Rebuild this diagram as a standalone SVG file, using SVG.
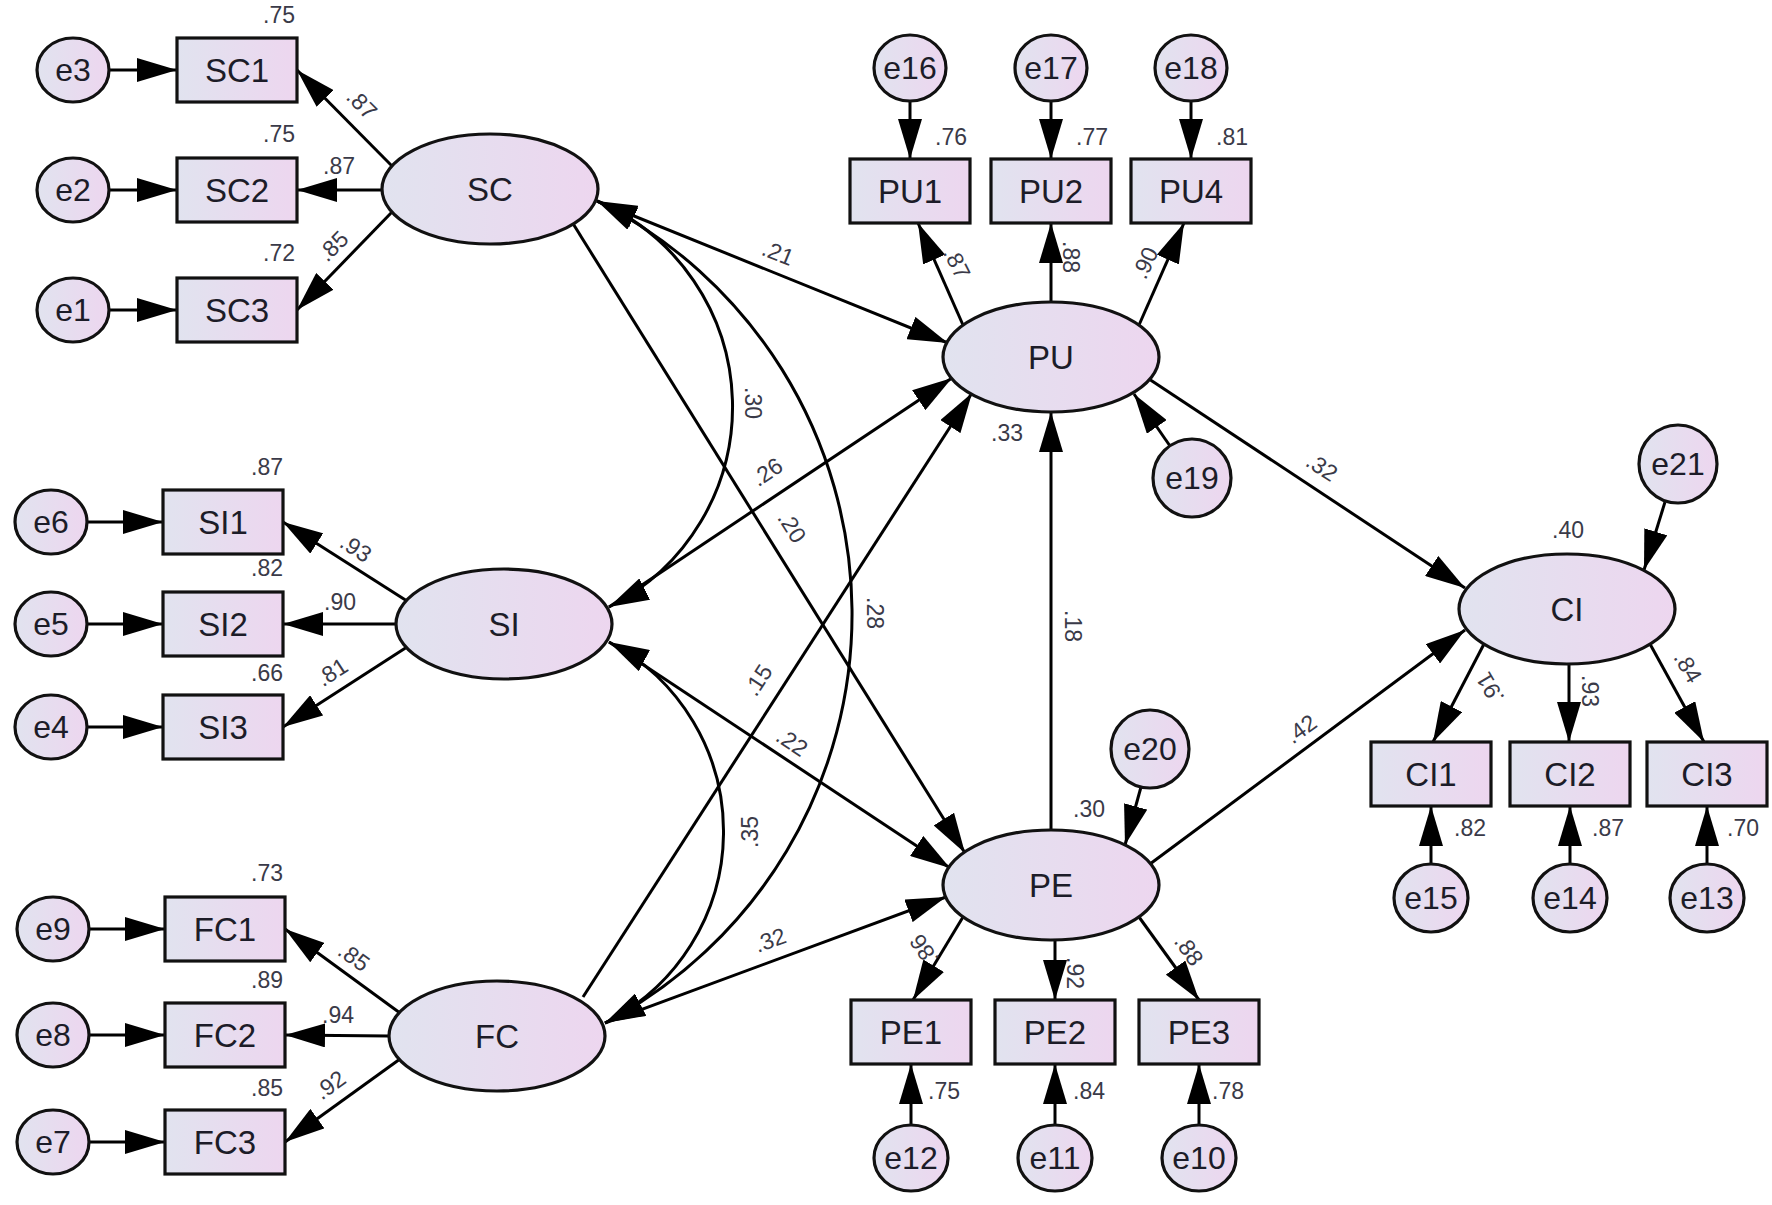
<svg xmlns="http://www.w3.org/2000/svg" width="1772" height="1205" viewBox="0 0 1772 1205">
<defs>
<linearGradient id="g" x1="0" y1="0" x2="1" y2="0">
<stop offset="0" stop-color="#e1e3ef"/>
<stop offset="1" stop-color="#edd6ef"/>
</linearGradient>
<marker id="ah" viewBox="0 0 40 24" refX="40" refY="12" markerWidth="40" markerHeight="24" markerUnits="userSpaceOnUse" orient="auto"><path d="M0,0 L40,12 L0,24 z" fill="#000"/></marker>
<marker id="ahs" viewBox="0 0 40 24" refX="40" refY="12" markerWidth="40" markerHeight="24" markerUnits="userSpaceOnUse" orient="auto-start-reverse"><path d="M0,0 L40,12 L0,24 z" fill="#000"/></marker>
<style>
.n{fill:url(#g);stroke:#111;stroke-width:3.2}
.t{font-family:"Liberation Sans",Arial,sans-serif;font-size:33px;fill:#1c1c28;text-anchor:middle;dominant-baseline:central}
.te{font-family:"Liberation Sans",Arial,sans-serif;font-size:32px;fill:#1c1c28;text-anchor:middle;dominant-baseline:central}
.v{font-family:"Liberation Sans",Arial,sans-serif;font-size:23px;fill:#3a3a48;text-anchor:middle;dominant-baseline:central}
.c{fill:none;stroke:#000;stroke-width:3;marker-end:url(#ah)}
.d{fill:none;stroke:#000;stroke-width:3;marker-start:url(#ahs);marker-end:url(#ahs)}
</style>
</defs>
<rect width="1772" height="1205" fill="#fff"/>

<g id="connectors">
<line class="c" x1="109" y1="70" x2="177" y2="70"/>
<line class="c" x1="109" y1="190" x2="177" y2="190"/>
<line class="c" x1="109" y1="310" x2="177" y2="310"/>
<line class="c" x1="87" y1="522" x2="163" y2="522"/>
<line class="c" x1="87" y1="624" x2="163" y2="624"/>
<line class="c" x1="87" y1="727" x2="163" y2="727"/>
<line class="c" x1="89" y1="929" x2="165" y2="929"/>
<line class="c" x1="89" y1="1035" x2="165" y2="1035"/>
<line class="c" x1="89" y1="1142" x2="165" y2="1142"/>
<line class="c" x1="392" y1="166" x2="297" y2="70"/>
<line class="c" x1="382" y1="190" x2="297" y2="190"/>
<line class="c" x1="392" y1="212" x2="297" y2="310"/>
<line class="c" x1="407" y1="601" x2="283" y2="522"/>
<line class="c" x1="396" y1="624" x2="283" y2="624"/>
<line class="c" x1="407" y1="647" x2="283" y2="727"/>
<line class="c" x1="400" y1="1013" x2="285" y2="929"/>
<line class="c" x1="389" y1="1036" x2="285" y2="1035"/>
<line class="c" x1="400" y1="1059" x2="285" y2="1142"/>
<line class="c" x1="910" y1="101" x2="910" y2="159"/>
<line class="c" x1="1051" y1="101" x2="1051" y2="159"/>
<line class="c" x1="1191" y1="101" x2="1191" y2="159"/>
<line class="c" x1="963" y1="325" x2="918" y2="223"/>
<line class="c" x1="1051" y1="302" x2="1051" y2="223"/>
<line class="c" x1="1139" y1="325" x2="1184" y2="223"/>
<line class="c" x1="1170" y1="446" x2="1134" y2="394"/>
<line class="c" x1="1141" y1="787" x2="1125" y2="845"/>
<line class="c" x1="963" y1="917" x2="913" y2="1000"/>
<line class="c" x1="1055" y1="940" x2="1055" y2="1000"/>
<line class="c" x1="1139" y1="917" x2="1199" y2="1000"/>
<line class="c" x1="911" y1="1125" x2="911" y2="1064"/>
<line class="c" x1="1055" y1="1125" x2="1055" y2="1064"/>
<line class="c" x1="1199" y1="1125" x2="1199" y2="1064"/>
<line class="c" x1="1665" y1="502" x2="1644" y2="570"/>
<line class="c" x1="1484" y1="644" x2="1433" y2="742"/>
<line class="c" x1="1569" y1="664" x2="1569" y2="742"/>
<line class="c" x1="1650" y1="644" x2="1704" y2="742"/>
<line class="c" x1="1431" y1="864" x2="1431" y2="806"/>
<line class="c" x1="1570" y1="864" x2="1570" y2="806"/>
<line class="c" x1="1707" y1="864" x2="1707" y2="806"/>
<path class="d" d="M597,201 A224,224 0 0,1 609,607"/>
<path class="d" d="M597,201 A462,462 0 0,1 605,1023"/>
<path class="d" d="M609,642 A214,214 0 0,1 605,1023"/>
<line class="c" x1="597" y1="201" x2="948" y2="343"/>
<line class="c" x1="572" y1="222" x2="965" y2="853"/>
<line class="c" x1="609" y1="607" x2="952" y2="378"/>
<line class="c" x1="609" y1="642" x2="950" y2="868"/>
<line class="c" x1="583" y1="997" x2="972" y2="393"/>
<line class="c" x1="605" y1="1023" x2="946" y2="897"/>
<line class="c" x1="1051" y1="830" x2="1051" y2="412"/>
<line class="c" x1="1149" y1="379" x2="1465" y2="588"/>
<line class="c" x1="1150" y1="864" x2="1465" y2="630"/>
</g>

<g id="edge-labels">
<text class="v" transform="translate(362,104) rotate(45)">.87</text>
<text class="v" x="339" y="166">.87</text>
<text class="v" transform="translate(333,246) rotate(-45)">.85</text>
<text class="v" transform="translate(356,548) rotate(33)">.93</text>
<text class="v" x="340" y="602">.90</text>
<text class="v" transform="translate(332,672) rotate(-33)">.81</text>
<text class="v" transform="translate(354,957) rotate(36)">.85</text>
<text class="v" x="338" y="1015">.94</text>
<text class="v" transform="translate(330,1085) rotate(-36)">.92</text>
<text class="v" transform="translate(957,263) rotate(63)">.87</text>
<text class="v" transform="translate(1071,257) rotate(90)">.88</text>
<text class="v" transform="translate(1145,263) rotate(-65)">.90</text>
<text class="v" transform="translate(778,253) rotate(22)">.21</text>
<text class="v" transform="translate(753,403) rotate(90)">.30</text>
<text class="v" transform="translate(767,472) rotate(-34)">.26</text>
<text class="v" transform="translate(792,527) rotate(58)">.20</text>
<text class="v" transform="translate(875,613) rotate(90)">.28</text>
<text class="v" transform="translate(758,680) rotate(-57)">.15</text>
<text class="v" transform="translate(792,742) rotate(34)">.22</text>
<text class="v" transform="translate(750,832) rotate(-90)">.35</text>
<text class="v" transform="translate(770,940) rotate(-20)">.32</text>
<text class="v" transform="translate(1073,626) rotate(90)">.18</text>
<text class="v" transform="translate(1322,467) rotate(33)">.32</text>
<text class="v" transform="translate(1301,729) rotate(-36)">.42</text>
<text class="v" transform="translate(924,950) rotate(-125)">.86</text>
<text class="v" transform="translate(1075,973) rotate(90)">.92</text>
<text class="v" transform="translate(1189,950) rotate(55)">.88</text>
<text class="v" transform="translate(1490,688) rotate(-120)">.91</text>
<text class="v" transform="translate(1590,691) rotate(90)">.93</text>
<text class="v" transform="translate(1688,667) rotate(60)">.84</text>
</g>

<g id="e3"><ellipse class="n" cx="73" cy="70" rx="36" ry="32"/><text class="te" x="73" y="70">e3</text></g>
<g id="e2"><ellipse class="n" cx="73" cy="190" rx="36" ry="32"/><text class="te" x="73" y="190">e2</text></g>
<g id="e1"><ellipse class="n" cx="73" cy="310" rx="36" ry="32"/><text class="te" x="73" y="310">e1</text></g>
<g id="SC1"><rect class="n" x="177" y="38" width="120" height="64"/><text class="t" x="237" y="70">SC1</text><text class="v" x="279" y="15">.75</text></g>
<g id="SC2"><rect class="n" x="177" y="158" width="120" height="64"/><text class="t" x="237" y="190">SC2</text><text class="v" x="279" y="134">.75</text></g>
<g id="SC3"><rect class="n" x="177" y="278" width="120" height="64"/><text class="t" x="237" y="310">SC3</text><text class="v" x="279" y="253">.72</text></g>
<g id="SC"><ellipse class="n" cx="490" cy="189" rx="108" ry="55"/><text class="t" x="490" y="189">SC</text></g>

<g id="e6"><ellipse class="n" cx="51" cy="522" rx="36" ry="32"/><text class="te" x="51" y="522">e6</text></g>
<g id="e5"><ellipse class="n" cx="51" cy="624" rx="36" ry="32"/><text class="te" x="51" y="624">e5</text></g>
<g id="e4"><ellipse class="n" cx="51" cy="727" rx="36" ry="32"/><text class="te" x="51" y="727">e4</text></g>
<g id="SI1"><rect class="n" x="163" y="490" width="120" height="64"/><text class="t" x="223" y="522">SI1</text><text class="v" x="267" y="467">.87</text></g>
<g id="SI2"><rect class="n" x="163" y="592" width="120" height="64"/><text class="t" x="223" y="624">SI2</text><text class="v" x="267" y="568">.82</text></g>
<g id="SI3"><rect class="n" x="163" y="695" width="120" height="64"/><text class="t" x="223" y="727">SI3</text><text class="v" x="267" y="673">.66</text></g>
<g id="SI"><ellipse class="n" cx="504" cy="624" rx="108" ry="55"/><text class="t" x="504" y="624">SI</text></g>

<g id="e9"><ellipse class="n" cx="53" cy="929" rx="36" ry="32"/><text class="te" x="53" y="929">e9</text></g>
<g id="e8"><ellipse class="n" cx="53" cy="1035" rx="36" ry="32"/><text class="te" x="53" y="1035">e8</text></g>
<g id="e7"><ellipse class="n" cx="53" cy="1142" rx="36" ry="32"/><text class="te" x="53" y="1142">e7</text></g>
<g id="FC1"><rect class="n" x="165" y="897" width="120" height="64"/><text class="t" x="225" y="929">FC1</text><text class="v" x="267" y="873">.73</text></g>
<g id="FC2"><rect class="n" x="165" y="1003" width="120" height="64"/><text class="t" x="225" y="1035">FC2</text><text class="v" x="267" y="980">.89</text></g>
<g id="FC3"><rect class="n" x="165" y="1110" width="120" height="64"/><text class="t" x="225" y="1142">FC3</text><text class="v" x="267" y="1088">.85</text></g>
<g id="FC"><ellipse class="n" cx="497" cy="1036" rx="108" ry="55"/><text class="t" x="497" y="1036">FC</text></g>

<g id="e16"><ellipse class="n" cx="910" cy="68" rx="36" ry="33"/><text class="te" x="910" y="68">e16</text></g>
<g id="e17"><ellipse class="n" cx="1051" cy="68" rx="36" ry="33"/><text class="te" x="1051" y="68">e17</text></g>
<g id="e18"><ellipse class="n" cx="1191" cy="68" rx="36" ry="33"/><text class="te" x="1191" y="68">e18</text></g>
<g id="PU1"><rect class="n" x="850" y="159" width="120" height="64"/><text class="t" x="910" y="191">PU1</text><text class="v" x="951" y="137">.76</text></g>
<g id="PU2"><rect class="n" x="991" y="159" width="120" height="64"/><text class="t" x="1051" y="191">PU2</text><text class="v" x="1092" y="137">.77</text></g>
<g id="PU4"><rect class="n" x="1131" y="159" width="120" height="64"/><text class="t" x="1191" y="191">PU4</text><text class="v" x="1232" y="137">.81</text></g>
<g id="PU"><ellipse class="n" cx="1051" cy="357" rx="108" ry="55"/><text class="t" x="1051" y="357">PU</text><text class="v" x="1007" y="433">.33</text></g>
<g id="e19"><circle class="n" cx="1192" cy="478" r="39"/><text class="te" x="1192" y="478">e19</text></g>

<g id="e20"><circle class="n" cx="1150" cy="749" r="39"/><text class="te" x="1150" y="749">e20</text></g>
<g id="PE"><ellipse class="n" cx="1051" cy="885" rx="108" ry="55"/><text class="t" x="1051" y="885">PE</text><text class="v" x="1089" y="809">.30</text></g>
<g id="PE1"><rect class="n" x="851" y="1000" width="120" height="64"/><text class="t" x="911" y="1032">PE1</text><text class="v" x="944" y="1091">.75</text></g>
<g id="PE2"><rect class="n" x="995" y="1000" width="120" height="64"/><text class="t" x="1055" y="1032">PE2</text><text class="v" x="1089" y="1091">.84</text></g>
<g id="PE3"><rect class="n" x="1139" y="1000" width="120" height="64"/><text class="t" x="1199" y="1032">PE3</text><text class="v" x="1228" y="1091">.78</text></g>
<g id="e12"><ellipse class="n" cx="911" cy="1158" rx="37" ry="33"/><text class="te" x="911" y="1158">e12</text></g>
<g id="e11"><ellipse class="n" cx="1055" cy="1158" rx="37" ry="33"/><text class="te" x="1055" y="1158">e11</text></g>
<g id="e10"><ellipse class="n" cx="1199" cy="1158" rx="37" ry="33"/><text class="te" x="1199" y="1158">e10</text></g>

<g id="e21"><circle class="n" cx="1678" cy="464" r="39"/><text class="te" x="1678" y="464">e21</text></g>
<g id="CI"><ellipse class="n" cx="1567" cy="609" rx="108" ry="55"/><text class="t" x="1567" y="609">CI</text><text class="v" x="1568" y="530">.40</text></g>
<g id="CI1"><rect class="n" x="1371" y="742" width="120" height="64"/><text class="t" x="1431" y="774">CI1</text><text class="v" x="1470" y="828">.82</text></g>
<g id="CI2"><rect class="n" x="1510" y="742" width="120" height="64"/><text class="t" x="1570" y="774">CI2</text><text class="v" x="1608" y="828">.87</text></g>
<g id="CI3"><rect class="n" x="1647" y="742" width="120" height="64"/><text class="t" x="1707" y="774">CI3</text><text class="v" x="1743" y="828">.70</text></g>
<g id="e15"><ellipse class="n" cx="1431" cy="898" rx="37" ry="34"/><text class="te" x="1431" y="898">e15</text></g>
<g id="e14"><ellipse class="n" cx="1570" cy="898" rx="37" ry="34"/><text class="te" x="1570" y="898">e14</text></g>
<g id="e13"><ellipse class="n" cx="1707" cy="898" rx="37" ry="34"/><text class="te" x="1707" y="898">e13</text></g>
</svg>
